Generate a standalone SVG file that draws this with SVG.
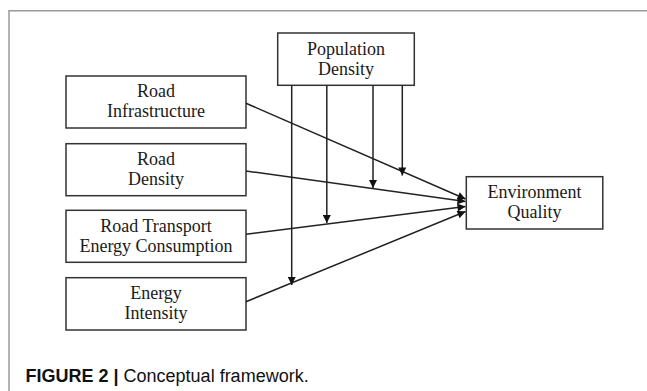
<svg xmlns="http://www.w3.org/2000/svg" width="647" height="391" viewBox="0 0 647 391">
<style>
.box{fill:#fff;stroke:#333;stroke-width:1.5}
.t{font-family:"Liberation Serif","Times New Roman",serif;font-size:18px;fill:#1a1a1a;text-anchor:middle}
.c{stroke:#222;stroke-width:1.5;fill:none}
.cap{font-family:"Liberation Sans",Arial,sans-serif;font-size:18px;fill:#111}
</style>
<defs>
<marker id="ah" viewBox="0 0 10 10" refX="10" refY="5" markerWidth="10" markerHeight="8" markerUnits="userSpaceOnUse" orient="auto">
<path d="M0,0 L10,5 L0,10 z" fill="#111"/>
</marker>
</defs>
<rect width="647" height="391" fill="#fff"/>
<path d="M9,391 V10.7 H647" fill="none" stroke="#999" stroke-width="1.5"/>
<g id="population-density">
<rect class="box" x="277.7" y="33" width="136.6" height="52.3"/>
<text class="t" x="346" y="54.5">Population</text>
<text class="t" x="346" y="74.5">Density</text>
</g>
<g id="road-infrastructure">
<rect class="box" x="66" y="76" width="180" height="52"/>
<text class="t" x="156" y="97">Road</text>
<text class="t" x="156" y="117">Infrastructure</text>
</g>
<g id="road-density">
<rect class="box" x="66" y="143.7" width="180" height="52"/>
<text class="t" x="156" y="165">Road</text>
<text class="t" x="156" y="185">Density</text>
</g>
<g id="road-transport-energy">
<rect class="box" x="66" y="210.3" width="180" height="52"/>
<text class="t" x="156" y="231.5">Road Transport</text>
<text class="t" x="156" y="251.5">Energy Consumption</text>
</g>
<g id="energy-intensity">
<rect class="box" x="66" y="277.7" width="180" height="52.3"/>
<text class="t" x="156" y="299">Energy</text>
<text class="t" x="156" y="319">Intensity</text>
</g>
<g id="environment-quality">
<rect class="box" x="466.3" y="176.7" width="136.5" height="52.3"/>
<text class="t" x="534.5" y="198">Environment</text>
<text class="t" x="534.5" y="218">Quality</text>
</g>
<g id="connectors">
<line class="c" x1="246" y1="103.3" x2="465.5" y2="199" marker-end="url(#ah)"/>
<line class="c" x1="246" y1="171" x2="465.5" y2="201.5" marker-end="url(#ah)"/>
<line class="c" x1="246" y1="234.3" x2="465.5" y2="206.5" marker-end="url(#ah)"/>
<line class="c" x1="246" y1="301.7" x2="465.5" y2="211.5" marker-end="url(#ah)"/>
<line class="c" x1="291.7" y1="85.3" x2="291.7" y2="285" marker-end="url(#ah)"/>
<line class="c" x1="326.8" y1="85.3" x2="326.8" y2="223" marker-end="url(#ah)"/>
<line class="c" x1="373" y1="85.3" x2="373" y2="188" marker-end="url(#ah)"/>
<line class="c" x1="402.3" y1="85.3" x2="402.3" y2="175.5" marker-end="url(#ah)"/>
</g>
<text class="cap" x="25.5" y="381.5"><tspan font-weight="bold">FIGURE 2 |</tspan> Conceptual framework.</text>
</svg>
